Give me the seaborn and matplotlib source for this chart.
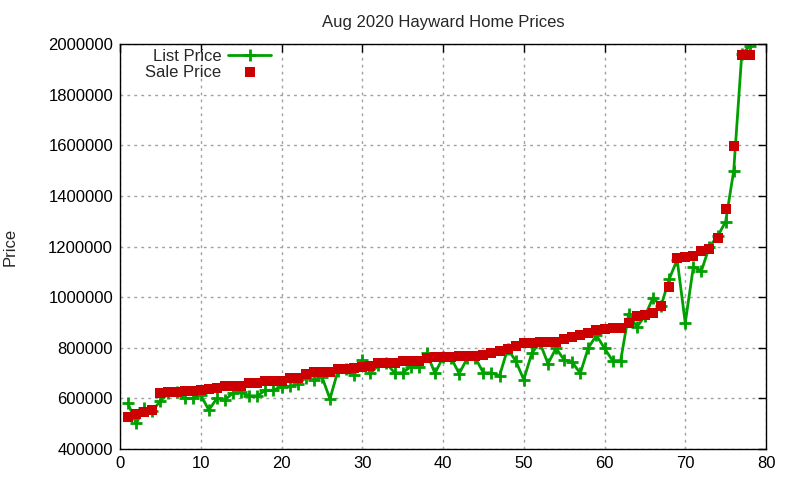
import numpy as np
import pandas as pd
import matplotlib
matplotlib.use('Agg')
import matplotlib.pyplot as plt
import seaborn as sns

sns.set_style('white')
plt.rcParams['font.family'] = ['Liberation Sans', 'DejaVu Sans']

# house index (sorted by sale price)
idx = list(range(1, 79))

sale_price = [527000, 537000, 547000, 554000, 622000, 626000, 626000, 629000, 631000, 633000,
              637000, 642000, 649000, 650000, 650000, 662000, 662000, 670000, 670000, 670000,
              681000, 681000, 695000, 703000, 703000, 705000, 716000, 716000, 721000, 725000,
              729000, 739000, 741000, 741000, 749000, 749000, 749000, 760000, 762000, 762000,
              762000, 767000, 767000, 767000, 771000, 780000, 787000, 797000, 807000, 817000,
              817000, 821000, 823000, 823000, 836000, 843000, 851000, 857000, 870000, 875000,
              879000, 879000, 899000, 926000, 930000, 938000, 966000, 1041000, 1156000, 1160000,
              1164000, 1183000, 1190000, 1235000, 1349000, 1597000, 1956000, 1956000]

list_price = [580000, 501000, 561000, 550000, 590000, 620000, 625000, 600000, 600000, 613000,
              554000, 600000, 594000, 622000, 624000, 610000, 610000, 632000, 632000, 646000,
              647000, 655000, 681000, 672000, 686000, 598000, 710000, 715000, 692000, 751000,
              700000, 730000, 738000, 701000, 701000, 725000, 725000, 778000, 699000, 762000,
              760000, 698000, 758000, 760000, 701000, 701000, 689000, 795000, 749000, 674000,
              779000, 820000, 737000, 798000, 752000, 743000, 699000, 800000, 849000, 798000,
              749000, 749000, 935000, 882000, 925000, 997000, 965000, 1070000, 1148000, 898000,
              1119000, 1104000, 1200000, 1240000, 1298000, 1499000, 1960000, 1992000]

df = pd.DataFrame({'n': idx, 'list': list_price, 'sale': sale_price})

green = '#00a000'
red = '#cc0000'

fig = plt.figure(figsize=(8, 4.8), dpi=100)
ax = fig.add_axes([0.15, 0.0646, 0.8075, 0.8437])

sns.lineplot(data=df, x='n', y='list', ax=ax, color=green, linewidth=2,
             marker='+', markersize=9, markeredgewidth=2, markeredgecolor=green,
             label='List Price', zorder=2)
sns.scatterplot(data=df, x='n', y='sale', ax=ax, color=red, marker='s', s=60,
                linewidth=0, label='Sale Price', zorder=3)

ax.set_xlim(0, 80)
ax.set_ylim(400000, 2000000)
ax.set_xticks(range(0, 81, 10))
ax.set_yticks(range(400000, 2000001, 200000))
ax.set_yticklabels([str(v) for v in range(400000, 2000001, 200000)])
ax.tick_params(direction='in', length=6, width=1, top=True, right=True,
               labelsize=12, colors='black', pad=5)
ax.grid(True, color='#a0a0a0', linestyle=(0, (2, 3)), linewidth=1)
for s in ax.spines.values():
    s.set_color('black')
    s.set_linewidth(1)

ax.set_xlabel('')
ax.set_ylabel('Price', fontsize=12, labelpad=22)
ax.set_title('Aug 2020 Hayward Home Prices', fontsize=12, pad=12)

ax.legend(loc='upper left', bbox_to_anchor=(0.021, 1.017), frameon=False, markerfirst=False,
          fontsize=12, handlelength=2.6, handletextpad=0.4, labelspacing=0.05,
          borderaxespad=0.3)

fig.savefig('out.png', dpi=100)
